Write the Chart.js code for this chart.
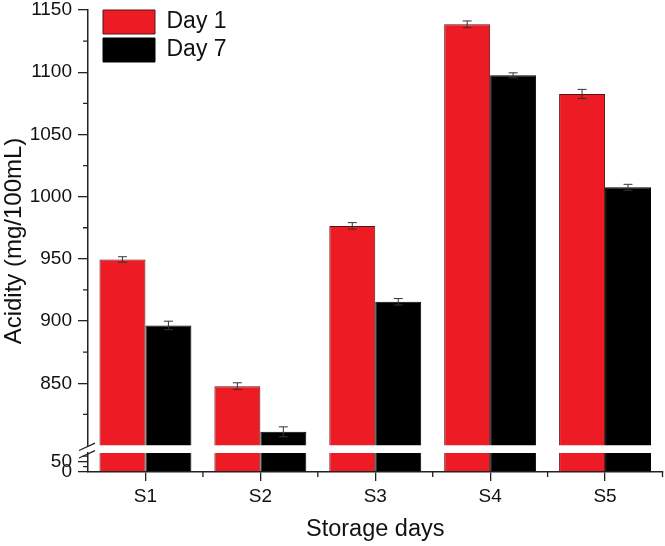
<!DOCTYPE html>
<html>
<head>
<meta charset="utf-8">
<script src="https://cdn.jsdelivr.net/npm/chart.js@4.4.1/dist/chart.umd.min.js"></script>
<style>
  html, body { margin: 0; padding: 0; background: #fff; }
  #wrap { width: 665px; height: 546px; position: relative; }
</style>
</head>
<body>
<div id="wrap"><canvas id="c"></canvas></div>
<script>
// ---- data ----
const categories = ['S1', 'S2', 'S3', 'S4', 'S5'];
const day1 = [949.5, 847.7, 976.5, 1138.5, 1082.5];
const day7 = [896.5, 811, 915.5, 1097.5, 1007.5];
const day1Err = [2.2, 2.7, 2.6, 2.7, 3.7];
const day7Err = [3.4, 4.0, 2.6, 2.0, 2.4];
const seriesNames = ['Day 1', 'Day 7'];
const upperTicks = [850, 900, 950, 1000, 1050, 1100, 1150];
const upperMinor = [825, 875, 925, 975, 1025, 1075, 1125];
const lowerTicks = [0, 50];
const lowerMinor = [25, 75];

const FONT = 'Liberation Sans, Arial, sans-serif';
const AX = '#222';
const RED = '#ED1C24';
const BLK = '#000000';

Chart.defaults.font.family = FONT;
Chart.defaults.color = '#111';

function fixWidth(w) {
  return function (s) { s.width = w; s.paddingTop = 0; s.paddingBottom = 0; };
}
const plainNum = (v) => String(v);

const clipPlugin = {
  id: 'clipToScale',
  beforeDatasetDraw(chart, args) {
    const ys = args.meta.yScale;
    const ctx = chart.ctx;
    ctx.save();
    ctx.beginPath();
    ctx.rect(chart.chartArea.left, ys.top, chart.chartArea.right - chart.chartArea.left, ys.bottom - ys.top);
    ctx.clip();
  },
  afterDatasetDraw(chart) { chart.ctx.restore(); }
};

const decorPlugin = {
  id: 'decor',
  afterLayout(chart) {
    const lg = chart.legend;
    if (lg) { lg.left += 11; lg.right += 11; lg.top += 6; lg.bottom += 6; }
  },
  afterDatasetsDraw(chart) {
    const ctx = chart.ctx;
    const yU = chart.scales.y;
    const errs = [day1Err, day7Err];
    const vals = [day1, day7];
    ctx.save();
    ctx.strokeStyle = '#333';
    ctx.lineWidth = 1;
    for (let d = 0; d < 2; d++) {
      const meta = chart.getDatasetMeta(d);
      meta.data.forEach((bar, i) => {
        const x = bar.x;
        const yt = yU.getPixelForValue(vals[d][i] + errs[d][i]);
        const yb = yU.getPixelForValue(vals[d][i] - errs[d][i]);
        ctx.beginPath();
        ctx.moveTo(x, yt); ctx.lineTo(x, yb);
        ctx.moveTo(x - 4.5, yt); ctx.lineTo(x + 4.5, yt);
        ctx.moveTo(x - 4.5, yb); ctx.lineTo(x + 4.5, yb);
        ctx.stroke();
      });
    }
    ctx.restore();
  },
  afterDraw(chart) {
    const ctx = chart.ctx;
    const yU = chart.scales.y, yL = chart.scales.yLow, xs = chart.scales.x;
    const ax = yU.right;
    ctx.save();
    ctx.strokeStyle = AX;
    ctx.lineWidth = 1.3;
    ctx.beginPath();
    upperMinor.forEach(v => { const p = yU.getPixelForValue(v); ctx.moveTo(ax - 5, p); ctx.lineTo(ax, p); });
    lowerMinor.forEach(v => { const p = yL.getPixelForValue(v); ctx.moveTo(ax - 5, p); ctx.lineTo(ax, p); });
    for (let i = 0; i < categories.length; i++) {
      const p = xs.getPixelForValue(i + 0.5);
      ctx.moveTo(p, xs.top); ctx.lineTo(p, xs.top + 5);
    }
    ctx.stroke();
    // break marks
    const b1 = yU.bottom + 1, b2 = yL.top + 1;
    ctx.beginPath();
    ctx.moveTo(ax - 9, b1 + 4); ctx.lineTo(ax + 7, b1 - 3.3);
    ctx.moveTo(ax - 9, b2 + 4); ctx.lineTo(ax + 7, b2 - 3.3);
    ctx.stroke();
    ctx.restore();
  }
};

const barCommon = { borderWidth: 1, borderSkipped: 'start', categoryPercentage: 0.8, barPercentage: 1.0 };

new Chart(document.getElementById('c'), {
  type: 'bar',
  data: {
    labels: categories,
    datasets: [
      Object.assign({ label: seriesNames[0], data: day1, backgroundColor: RED, borderColor: '#5a1212', yAxisID: 'y', stack: 'd1' }, barCommon),
      Object.assign({ label: seriesNames[1], data: day7, backgroundColor: BLK, borderColor: '#000', yAxisID: 'y', stack: 'd7' }, barCommon),
      Object.assign({ label: seriesNames[0] + ' (low)', data: day1, backgroundColor: RED, borderColor: '#5a1212', yAxisID: 'yLow', stack: 'd1' }, barCommon),
      Object.assign({ label: seriesNames[1] + ' (low)', data: day7, backgroundColor: BLK, borderColor: '#000', yAxisID: 'yLow', stack: 'd7' }, barCommon)
    ]
  },
  options: {
    responsive: true,
    maintainAspectRatio: false,
    animation: false,
    layout: { padding: { top: 10, right: 2.5, left: 0, bottom: 0 } },
    plugins: {
      tooltip: { enabled: false },
      legend: {
        position: 'chartArea',
        align: 'start',
        labels: {
          boxWidth: 52, boxHeight: 24, padding: 4,
          font: { size: 23, family: FONT }, color: '#111',
          filter: (item) => item.datasetIndex < 2
        }
      }
    },
    scales: {
      x: {
        type: 'category',
        position: 'bottom',
        grid: { display: true, drawOnChartArea: false, offset: false, tickLength: 9, color: AX, lineWidth: 1.3 },
        border: { display: true, color: AX, width: 1.5 },
        ticks: { font: { size: 19 }, padding: 4, color: '#111' },
        title: { display: true, text: 'Storage days', font: { size: 23.5 }, padding: { top: 0, bottom: 2 }, color: '#111' },
        afterFit: (s) => { s.height = 74; s.paddingLeft = 0; s.paddingRight = 0; }
      },
      yTitle: {
        type: 'linear', position: 'left', weight: 10, display: true,
        grid: { display: false }, border: { display: false }, ticks: { display: false },
        title: { display: true, text: 'Acidity (mg/100mL)', font: { size: 24 }, padding: 0, color: '#111' },
        afterFit: fixWidth(26)
      },
      y: {
        type: 'linear', position: 'left', weight: 5, stack: 'ys', stackWeight: 435.5, stacked: false,
        min: 800, max: 1150,
        afterBuildTicks: (s) => { s.ticks = upperTicks.map(v => ({ value: v })); },
        ticks: { font: { size: 19 }, padding: 6, autoSkip: false, color: '#111', callback: plainNum },
        grid: { display: true, drawOnChartArea: false, tickLength: 10, color: AX, lineWidth: 1.3 },
        border: { display: true, color: AX, width: 1.5 },
        afterFit: fixWidth(62)
      },
      ySpacer: {
        type: 'linear', position: 'left', weight: 4, stack: 'ys', stackWeight: 7.5, stacked: false,
        display: true, grid: { display: false }, border: { display: false }, ticks: { display: false },
        afterFit: fixWidth(62)
      },
      yLow: {
        type: 'linear', position: 'left', weight: 3, stack: 'ys', stackWeight: 19, stacked: false,
        min: 0, max: 90,
        afterBuildTicks: (s) => { s.ticks = lowerTicks.map(v => ({ value: v })); },
        ticks: { font: { size: 19 }, padding: 6, autoSkip: false, color: '#111', callback: plainNum },
        grid: { display: true, drawOnChartArea: false, tickLength: 10, color: AX, lineWidth: 1.3 },
        border: { display: true, color: AX, width: 1.5 },
        afterFit: fixWidth(62)
      }
    }
  },
  plugins: [clipPlugin, decorPlugin]
});
</script>
</body>
</html>
